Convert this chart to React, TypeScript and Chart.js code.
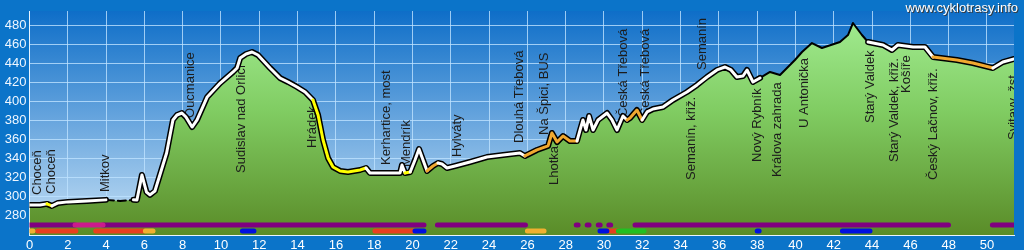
import { useEffect, useRef } from 'react';
import { Chart, registerables } from 'chart.js';

Chart.register(...registerables);

// ---- elevation profile (km, m a.s.l.) ----
const profileKm = [
  0, 0.55, 0.91, 1.17, 1.49, 2.01, 3.0, 3.99, 4.73, 5.43, 5.61, 5.87, 6.11, 6.29, 6.55, 7.16, 7.49, 7.7, 7.96, 8.17,
  8.49, 8.75, 9.28, 9.96, 10.63, 10.84, 11.0, 11.31, 11.62, 11.93, 12.56, 13.08, 13.5, 13.97, 14.39, 14.8, 15.07, 15.33,
  15.59, 15.85, 16.22, 16.63, 17.26, 17.57, 17.78, 19.35, 19.45, 19.61, 19.88, 20.13, 20.34, 20.55, 20.76, 21.07, 21.33,
  21.54, 21.8, 22.22, 23.0, 23.89, 24.73, 25.61, 25.87, 26.5, 27.08, 27.28, 27.55, 27.86, 28.22, 28.59, 28.75, 28.9,
  29.06, 29.22, 29.43, 29.69, 30.16, 30.42, 30.68, 30.99, 31.2, 31.36, 31.72, 31.99, 32.25, 32.56, 33.08, 33.6, 34.33,
  34.86, 35.38, 35.9, 36.32, 36.63, 36.94, 37.26, 37.47, 37.78, 38.15, 38.67, 39.19, 39.97, 40.34, 40.86, 41.38, 42.32,
  42.74, 43.0, 43.47, 43.79, 44.57, 45.04, 45.35, 46.14, 46.76, 47.18, 48.43, 49.26, 50.31, 50.83, 51.41,
];
const profileElev = [
  291.5, 291.5, 292.6, 290.5, 293.6, 294.7, 295.7, 296.8, 295.7, 296.8, 296.7, 322.9, 305, 302, 306.1, 345.9, 380.5,
  385.7, 387.8, 383.6, 373.1, 380.5, 404.6, 419.2, 430.8, 435, 445.4, 449.6, 451.7, 448.6, 435, 424.5, 420.3, 415.1,
  409.8, 401.4, 385.7, 359.5, 340.7, 331.2, 327.1, 326, 328.1, 330.2, 325, 325, 333.3, 325, 326, 338.6, 350.1, 338.6,
  327.1, 332.3, 335.4, 334.4, 330.2, 332.3, 336.5, 341.7, 343.8, 345.9, 342.8, 349.1, 353.3, 366.9, 357.4, 363.7, 358.5,
  358.5, 370, 380.5, 370, 384.7, 370, 380.5, 387.8, 380.5, 370, 384.7, 380.5, 382.6, 390.9, 380.5, 388.9, 392, 394.1,
  401.4, 409.8, 417.2, 425.5, 432.9, 436, 432.9, 425.5, 426.6, 432.9, 420.3, 424.5, 430.8, 427.6, 443.3, 451.7, 461.1,
  455.9, 462.2, 469.5, 482.1, 469.5, 462.2, 459.1, 453.8, 459.1, 457, 457, 446.5, 443.3, 440.2, 434.9, 441.2, 444.4,
];

// ---- route line style ranges (km from / to) ----
const yellowRoute = [[0.91, 1.17], [14.8, 17.57], [19.61, 19.88]];
const orangeRoute = [[20.76, 21.33], [25.87, 28.59], [31.2, 31.99], [47.18, 50.31]];
const dashedRoute = [[3.99, 5.43]];
const blackRoute = [[38.15, 43.79]];

// ---- place names ----
const placeNames = [
  'Choceň', 'Choceň', 'Mitkov', 'Oucmanice', 'Sudislav nad Orlicí', 'Hrádek', 'Kerhartice, most', 'Mendrík',
  'Hylváty', 'Dlouhá Třebová', 'Na Špici, BUS', 'Lhotka', 'Česká Třebová', 'Česká Třebová', 'Semanín',
  'Semanín, křiž.', 'Nový Rybník', 'Králova zahrada', 'U Antonička', 'Starý Valdek', 'Starý Valdek, křiž.',
  'Košíře', 'Český Lačnov, křiž.', 'Svitavy, žst.',
];
const placeKm = [
  0.41, 1.16, 3.99, 8.42, 11.08, 14.8, 18.65, 19.7, 22.34, 25.6, 26.87, 27.39, 31.01, 32.14, 35.15, 34.58, 38.0, 39.05,
  40.44, 43.89, 45.14, 45.77, 47.2, 51.37,
];
const placeElev = [
  301.9, 303, 305, 382.6, 325, 351.1, 333.3, 331.2, 341.7, 356.4, 364.8, 312.4, 383.6, 383.6, 432.9, 317.6, 336.5,
  320.8, 372.1, 377.3, 336.5, 408.8, 317.6, 359.5,
];

// ---- surface bands (km from / to) ----
const bandPurple = [
  [0, 2.38], [3.84, 20.6], [21.3, 25.9], [28.55, 28.65], [29.12, 29.22], [29.7, 29.8], [30.25, 30.35], [31.62, 47.99],
  [50.28, 51.41],
];
const bandMagenta = [[2.38, 3.84]];
const bandRed = [[0.42, 2.42], [3.46, 5.99], [18.04, 20.13], [30.2, 30.75]];
const bandYellow = [[0.08, 0.18], [6.05, 6.45], [26.0, 26.87]];
const bandBlue = [[11.12, 11.72], [20.13, 20.6], [29.79, 30.15], [38.0, 38.1], [42.45, 43.89]];
const bandGreen = [[30.75, 32.09]];

const xTickStep = 2;
const yTickStep = 20;

const FONT = '"Liberation Sans", Arial, sans-serif';
const BAND_ROW1 = 270.5;
const BAND_ROW2 = 264.2;

const inRanges = (ranges: number[][], a: number, b: number) => {
  const m = (a + b) / 2;
  return ranges.some(([s, e]) => m >= s && m <= e);
};

const bandData = (segs: number[][], level: number) => {
  const out: any[] = [];
  segs.forEach(([a, b]) => {
    out.push({ x: a, y: level }, { x: b, y: level }, { x: b, y: null });
  });
  return out;
};

export default function App() {
  const ref = useRef<HTMLCanvasElement | null>(null);

  useEffect(() => {
    document.body.style.margin = '0';
    document.body.style.overflow = 'hidden';
    const canvas = ref.current;
    if (!canvas) return;

    const profile = profileKm.map((x, i) => ({ x, y: profileElev[i] }));

    const backgroundPlugin = {
      id: 'bgSky',
      beforeDraw(chart: any) {
        const { ctx, chartArea, width, height } = chart;
        ctx.save();
        ctx.fillStyle = '#0b74c9';
        ctx.fillRect(0, 0, width, height);
        if (chartArea) {
          const g = ctx.createLinearGradient(0, chartArea.top, 0, chartArea.bottom);
          g.addColorStop(0, '#0e6ec8');
          g.addColorStop(1, '#c6e0f5');
          ctx.fillStyle = g;
          ctx.fillRect(chartArea.left, chartArea.top, chartArea.right - chartArea.left, chartArea.bottom - chartArea.top);
        }
        ctx.restore();
      },
    };

    const labelsPlugin = {
      id: 'placeLabels',
      afterDatasetDraw(chart: any, args: any) {
        if (args.index !== 0) return;
        const { ctx, scales, chartArea } = chart;
        ctx.save();
        ctx.beginPath();
        ctx.rect(chartArea.left, chartArea.top, chartArea.right - chartArea.left, chartArea.bottom - chartArea.top);
        ctx.clip();
        ctx.font = `13px ${FONT}`;
        ctx.fillStyle = '#1c1c1c';
        ctx.textAlign = 'left';
        ctx.textBaseline = 'middle';
        placeNames.forEach((name, i) => {
          const px = scales.x.getPixelForValue(placeKm[i]);
          const py = scales.y.getPixelForValue(placeElev[i]);
          ctx.save();
          ctx.translate(px, py);
          ctx.rotate(-Math.PI / 2);
          ctx.fillText(name, 0, 0);
          ctx.restore();
        });
        ctx.restore();
      },
    };

    const watermarkPlugin = {
      id: 'watermark',
      afterDraw(chart: any) {
        const { ctx } = chart;
        ctx.save();
        ctx.font = `13px ${FONT}`;
        ctx.textAlign = 'right';
        ctx.textBaseline = 'middle';
        ctx.fillStyle = '#3a3a3a';
        ctx.fillText('www.cyklotrasy.info', 1019, 9);
        ctx.fillStyle = '#ffffff';
        ctx.fillText('www.cyklotrasy.info', 1018, 8);
        ctx.restore();
      },
    };

    const terrainFill = (c: any) => {
      const { chart } = c;
      const { ctx, chartArea } = chart;
      if (!chartArea) return '#78c050';
      const g = ctx.createLinearGradient(0, chartArea.top, 0, chartArea.bottom);
      g.addColorStop(0, '#a4ee94');
      g.addColorStop(0.45, '#80cc62');
      g.addColorStop(1, '#5a8c28');
      return g;
    };

    const bandDs = (segs: number[][], level: number, color: string, order: number) => ({
      type: 'line',
      data: bandData(segs, level),
      borderColor: color,
      borderWidth: 5,
      borderCapStyle: 'round',
      pointRadius: 0,
      fill: false,
      spanGaps: false,
      clip: 0,
      order,
    });

    const gridColor = 'rgba(190,226,255,0.8)';

    const chart = new Chart(canvas, {
      type: 'line',
      data: {
        datasets: [
          {
            data: profile,
            borderWidth: 0,
            borderColor: 'rgba(0,0,0,0)',
            backgroundColor: terrainFill,
            fill: 'start',
            pointRadius: 0,
            order: 20,
          },
          {
            data: profile,
            borderColor: '#000000',
            borderWidth: 6,
            borderJoinStyle: 'round',
            borderCapStyle: 'round',
            pointRadius: 0,
            fill: false,
            order: 19,
            segment: {
              borderWidth: (c: any) => {
                const a = c.p0.parsed.x, b = c.p1.parsed.x;
                return inRanges(blackRoute, a, b) || inRanges(dashedRoute, a, b) ? 2 : undefined;
              },
              borderDash: (c: any) => (inRanges(dashedRoute, c.p0.parsed.x, c.p1.parsed.x) ? [8, 4] : undefined),
            },
          },
          {
            data: profile,
            borderColor: '#ffffff',
            borderWidth: 3,
            borderJoinStyle: 'round',
            borderCapStyle: 'round',
            pointRadius: 0,
            fill: false,
            order: 18,
            segment: {
              borderColor: (c: any) => {
                const a = c.p0.parsed.x, b = c.p1.parsed.x;
                if (inRanges(blackRoute, a, b) || inRanges(dashedRoute, a, b)) return 'rgba(0,0,0,0)';
                if (inRanges(yellowRoute, a, b)) return '#ffff00';
                if (inRanges(orangeRoute, a, b)) return '#f0a830';
                return undefined;
              },
            },
          },
          bandDs(bandPurple, BAND_ROW1, '#800080', 9),
          bandDs(bandMagenta, BAND_ROW1, '#cc1a8c', 8),
          bandDs(bandRed, BAND_ROW2, '#e8401e', 7),
          bandDs(bandYellow, BAND_ROW2, '#f0b030', 6),
          bandDs(bandBlue, BAND_ROW2, '#0010e0', 5),
          bandDs(bandGreen, BAND_ROW2, '#22c022', 4),
        ] as any,
      },
      options: {
        animation: false,
        responsive: false,
        devicePixelRatio: 1,
        parsing: true,
        layout: { padding: { top: 11, right: 10, left: 0, bottom: 0 } },
        plugins: { legend: { display: false }, tooltip: { enabled: false } },
        elements: { line: { tension: 0 } },
        scales: {
          x: {
            type: 'linear',
            min: 0,
            max: 51.41,
            ticks: {
              stepSize: xTickStep,
              includeBounds: false,
              autoSkip: false,
              maxRotation: 0,
              color: '#ffffff',
              padding: 3,
              font: { size: 13, family: FONT },
            },
            grid: { color: gridColor, drawTicks: false, lineWidth: 1 },
            border: { color: '#e8f4ff', width: 1 },
            afterFit: (s: any) => {
              s.height = 15;
            },
          },
          y: {
            type: 'linear',
            min: 260,
            max: 494.67,
            ticks: {
              stepSize: yTickStep,
              includeBounds: false,
              autoSkip: false,
              color: '#eef6ff',
              padding: 3,
              font: { size: 13, family: FONT },
              callback: (v: any) => (v < 270 ? '' : String(v)),
            },
            grid: { color: gridColor, drawTicks: false, lineWidth: 1 },
            border: { color: '#e8f4ff', width: 1 },
            afterFit: (s: any) => {
              s.width = 29.5;
            },
          },
        },
      } as any,
      plugins: [backgroundPlugin, labelsPlugin, watermarkPlugin],
    });

    return () => chart.destroy();
  }, []);

  return (
    <div style={{ width: 1024, height: 250, overflow: 'hidden' }}>
      <canvas ref={ref} width={1024} height={250} style={{ display: 'block' }} />
    </div>
  );
}
